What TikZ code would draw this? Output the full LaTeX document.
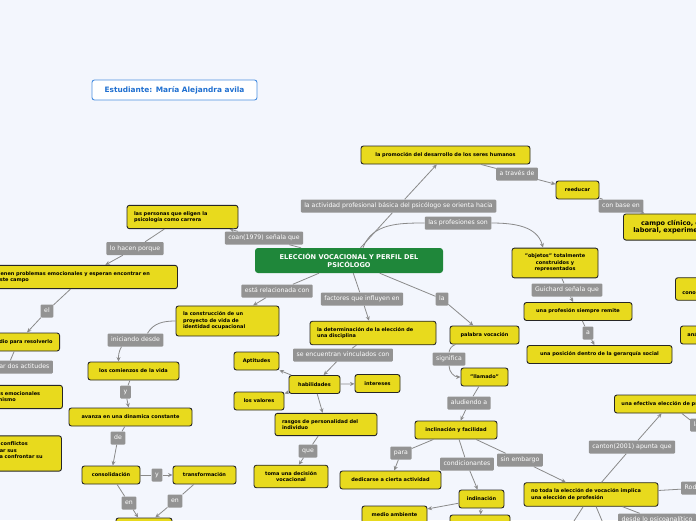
\documentclass[tikz,border=0pt]{standalone}
\usepackage{fontspec}
\setmainfont{DejaVu Sans}
\usepackage{tikz}
\usetikzlibrary{arrows.meta}

\definecolor{paper}{HTML}{F3F6FD}
\definecolor{ideayellow}{HTML}{E8DA1D}
\definecolor{labgray}{HTML}{939393}
\definecolor{lnkgray}{HTML}{8A8A8A}
\definecolor{coregreen}{HTML}{1F873A}
\definecolor{stublue}{HTML}{4A8FE0}
\definecolor{stutext}{HTML}{1F6FD0}

\begin{document}
\begin{tikzpicture}[
  x=1pt, y=-1pt,
  >=Stealth,
  idea/.style={
    draw=black!85, fill=ideayellow, rounded corners=2.5pt, line width=0.9pt,
    font=\bfseries\fontsize{5}{6.5}\selectfont, align=center,
    inner xsep=7pt, inner ysep=6pt, minimum height=18pt
  },
  idealeft/.style={idea, align=left, text width=#1},
  core/.style={
    fill=coregreen, text=white, rounded corners=3pt, align=center,
    font=\bfseries\fontsize{6.6}{8}\selectfont,
    minimum width=188pt, minimum height=25pt
  },
  student/.style={
    draw=stublue, fill=white, text=stutext, rounded corners=2.5pt,
    line width=0.9pt, font=\bfseries\fontsize{7.4}{9}\selectfont,
    minimum width=165pt, minimum height=20pt
  },
  lab/.style={
    fill=labgray, text=white, rounded corners=1pt,
    font=\fontsize{6.2}{7}\selectfont, inner xsep=3.5pt, inner ysep=0pt,
    text height=4.7pt, text depth=1.3pt, minimum height=13pt
  },
  lnk/.style={draw=lnkgray, line width=0.8pt},
  arr/.style={lnk, -{Stealth[length=4.5pt, width=4pt]}}
]
  \useasboundingbox (0,0) rectangle (696,520);
  \fill[paper] (0,0) rectangle (696,520);
  \clip (0,0) rectangle (696,520);

  \node[student] (est) at (174.5,90) {Estudiante: María Alejandra avila};
  \node[core] (core) at (349,260.5) {ELECCIÓN VOCACIONAL Y PERFIL DEL\\PSICÓLOGO};

  % arriba y derecha
  \node[lab] (actv) at (398.5,206) {la actividad profesional básica del psicólogo se orienta hacia};
  \node[idea, minimum width=169pt] (promo) at (445.5,155) {la promoción del desarrollo de los seres humanos};
  \node[lab] (atra) at (517,174) {a través de};
  \node[idea, minimum width=43pt] (reedu) at (577.5,190) {reeducar};
  \node[lab] (cbase) at (621,206) {con base en};
  \node[idea, anchor=west, text width=114pt, minimum height=26pt,
    font=\bfseries\fontsize{6.5}{7.5}\selectfont] (campo) at (623,227)
    {campo clínico, educativo,\\laboral, experimental y social};
  \node[lab] (prof) at (458,223) {las profesiones son};
  \node[idea, minimum width=86pt] (objs) at (555,263) {"objetos" totalmente\\construidos y\\representados};
  \node[lab] (guich) at (567,290) {Guichard señala que};
  \node[idea, minimum width=108pt] (remite) at (578,311.5) {una profesión siempre remite};
  \node[lab] (a) at (588,333) {a};
  \node[idea, minimum width=145pt] (gera) at (599.5,354.5) {una posición dentro de la gerarquía social};
  \node[idea, anchor=west] (conc) at (675,289) {elección de\\conocimiento de sí mismo};
  \node[idea, anchor=west] (anal) at (680,335) {análisis};

  % vocación
  \node[lab] (la) at (442,299) {la};
  \node[idea, minimum width=69pt] (voc) at (484.5,335) {palabra vocación};
  \node[lab] (sig) at (449,359) {significa};
  \node[idea, minimum width=47pt] (llam) at (484.5,377) {"llamado"};
  \node[lab] (alu) at (469,403) {aludiendo a};
  \node[idea, minimum width=82pt] (incl) at (456,430) {inclinación y facilidad};
  \node[lab] (para) at (401,453) {para};
  \node[idea, minimum width=101pt] (dedi) at (390.5,480) {dedicarse a cierta actividad};
  \node[lab] (cond) at (467,464) {condicionantes};
  \node[lab] (sinemb) at (520,460) {sin embargo};
  \node[idea, minimum width=45pt] (indi) at (481.5,499) {indinación};
  \node[idea, minimum width=65pt] (medio) at (394.5,515) {medio ambiente};
  \node[idea, minimum width=60pt] (otro) at (480,524) {};

  \node[idealeft=120pt] (notoda) at (591,494.5) {no toda la elección de vocación implica\\una elección de profesión};
  \node[lab] (cant) at (632,447) {canton(2001) apunta que};
  \node[idea, anchor=west] (efec) at (614,404) {una efectiva elección de profesión};
  \node[lab, anchor=west] (lla) at (690,425) {la};
  \node[lab, anchor=west] (rod) at (681,488) {Rodríguez};
  \node[lab, anchor=west] (psico) at (618,520) {desde lo psicoanalítico};
  \coordinate (baja1) at (565,535);
  \coordinate (baja2) at (608,535);

  % factores
  \node[lab] (fact) at (362,299) {factores que influyen en};
  \node[idealeft=112pt] (deter) at (373,333) {la determinación de la elección de\\una disciplina};
  \node[lab] (vinc) at (343,355) {se encuentran vinculados con};
  \node[idea, minimum width=51pt] (hab) at (314.5,384.5) {habilidades};
  \node[idea, minimum width=45pt] (apt) at (256.5,361) {Aptitudes};
  \node[idea, minimum width=45pt] (inter) at (377.5,383.5) {intereses};
  \node[idea, minimum width=50pt] (valo) at (259,401) {los valores};
  \node[idealeft=88pt] (rasg) at (326,424.5) {rasgos de personalidad del\\individuo};
  \node[lab] (que) at (308,451) {que};
  \node[idea, minimum width=74pt] (toma) at (291,476.5) {toma una decisión\\vocacional};

  % izquierda
  \node[lab] (coan) at (264,238) {coan(1979) señala que};
  \node[idealeft=97pt] (pers) at (182.5,217) {las personas que eligen la\\psicología como carrera};
  \node[lab] (hacen) at (135,248.5) {lo hacen porque};
  \node[idealeft=174pt, anchor=west] (tien) at (-11,277) {tienen problemas emocionales y esperan encontrar en\\este campo};
  \node[lab] (el) at (47,311) {el};
  \node[idea, anchor=east] (resol) at (60,342) {el medio para resolverlo};
  \node[lab, anchor=east] (dosact) at (53,367) {puede tomar dos actitudes};
  \node[idealeft=114pt, anchor=west] (emoc) at (-66,397) {afrontar los conflictos emocionales\\y resolverlos por él mismo};
  \node[idealeft=103pt, anchor=west] (confl) at (-56,453.5) {se enfrentan con conflictos\\y evitan así afectar sus\\emociones, o para confrontar su\\vida};

  \node[lab] (rel) at (277,291) {está relacionada con};
  \node[idealeft=89pt] (cons) at (227.5,321) {la construcción de un\\proyecto de vida de\\identidad ocupacional};
  \node[lab] (inic) at (135.5,340) {iniciando desde};
  \node[idea, minimum width=91pt] (comi) at (133.5,371) {los comienzos de la vida};
  \node[lab] (y1) at (125.5,392) {y};
  \node[idea, minimum width=123pt] (avan) at (130.5,417) {avanza en una dinamica constante};
  \node[lab] (de) at (118,438) {de};
  \node[idea, minimum width=58pt] (conso) at (111,475) {consolidación};
  \node[lab] (y2) at (157,475) {y};
  \node[idea, minimum width=63pt] (trans) at (204.5,475) {transformación};
  \node[lab] (en1) at (129,503) {en};
  \node[lab] (en2) at (175,501) {en};
  \node[idea, minimum width=56pt] (fondo) at (144,527) {};

  % conectores
  \draw[arr] (core) -- (actv) -- (promo);
  \draw[arr] (promo) -- (atra) -- (reedu);
  \draw[arr] (reedu) -- (cbase) -- (campo);
  \draw[lnk] ([xshift=14pt]core.north) to[out=70, in=180] (prof.west);
  \draw[arr] (prof.east) to[out=0, in=105] ([xshift=-12pt]objs.north);
  \draw[arr] (objs) -- (guich) -- (remite);
  \draw[arr] (remite) -- (a) -- (gera);

  \draw[arr] (core) -- (la) -- (voc);
  \draw[lnk] ([xshift=6pt]voc.south west) to[out=200, in=80] (sig.north);
  \draw[arr] (sig.south) to[out=-90, in=180] (llam.west);
  \draw[arr] (llam) -- (alu) -- (incl);
  \draw[arr] (incl) -- (para) -- (dedi);
  \draw[arr] (incl) -- (cond) -- (indi);
  \draw[arr] (incl) -- (sinemb) -- (notoda);
  \draw[arr] (indi) -- (medio);
  \draw[arr] (indi) -- (otro);
  \draw[arr] (notoda) -- (cant) -- (efec);
  \draw[lnk] (efec) -- (lla);
  \draw[lnk] (notoda) -- (rod);
  \draw[lnk] (notoda) -- (psico);
  \draw[lnk] (notoda) -- (baja1);
  \draw[lnk] (notoda) -- (baja2);

  \draw[arr] (core) -- (fact) -- (deter);
  \draw[arr] (deter) -- (vinc) -- (hab);
  \draw[arr] (hab) -- (apt);
  \draw[arr] (hab) -- (inter);
  \draw[arr] (hab) -- (valo);
  \draw[arr] (hab) -- (rasg);
  \draw[arr] (rasg) -- (que) -- (toma);

  \draw[arr] (core) -- (coan) -- (pers);
  \draw[arr] (pers) -- (hacen) -- (tien);
  \draw[arr] (tien) -- (el) -- (resol);
  \draw[lnk] (resol) -- (dosact);

  \draw[arr] (core) -- (rel) -- (cons);
  \draw[lnk] (cons.west) to[out=180, in=60] ([xshift=12pt]inic.north);
  \draw[arr] ([xshift=-14pt]inic.south) to[out=-120, in=90] ([xshift=-15pt]comi.north);
  \draw[arr] (comi) -- (y1) -- (avan);
  \draw[arr] (avan) -- (de) -- (conso);
  \draw[arr] (conso) -- (y2) -- (trans);
  \draw[arr] (conso) -- (en1) -- (fondo);
  \draw[arr] (trans) -- (en2) -- (fondo);
\end{tikzpicture}
\end{document}
